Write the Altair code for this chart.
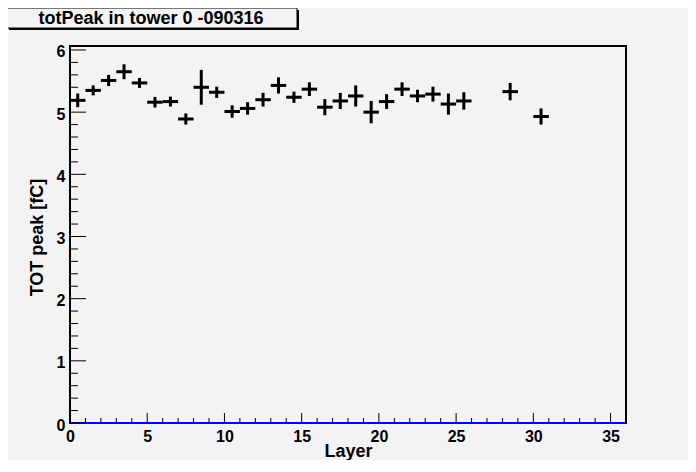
import altair as alt
import pandas as pd

# ---- data ----
layers = [0.5, 1.5, 2.5, 3.5, 4.5, 5.5, 6.5, 7.5, 8.5, 9.5,
          10.5, 11.5, 12.5, 13.5, 14.5, 15.5, 16.5, 17.5, 18.5, 19.5,
          20.5, 21.5, 22.5, 23.5, 24.5, 25.5, 28.5, 30.5]
tot_peak = [5.19, 5.35, 5.51, 5.65, 5.47, 5.16, 5.17, 4.89, 5.40, 5.32,
            5.01, 5.06, 5.20, 5.43, 5.24, 5.37, 5.08, 5.18, 5.26, 5.00,
            5.17, 5.37, 5.26, 5.29, 5.13, 5.18, 5.33, 4.93]
tot_err = [0.11, 0.08, 0.09, 0.12, 0.08, 0.085, 0.08, 0.09, 0.28, 0.09,
           0.10, 0.10, 0.11, 0.13, 0.09, 0.11, 0.13, 0.13, 0.17, 0.18,
           0.12, 0.11, 0.10, 0.12, 0.17, 0.14, 0.14, 0.13]
bin_half_width = 0.5

hist_range = [0, 36]          # histogram x range (empty bins drawn at 0)
x_major = [0, 5, 10, 15, 20, 25, 30, 35]
x_minor = [1, 2, 3, 4, 6, 7, 8, 9, 11, 12, 13, 14, 16, 17, 18, 19, 21, 22,
           23, 24, 26, 27, 28, 29, 31, 32, 33, 34, 36]
y_major = [0, 1, 2, 3, 4, 5, 6]
y_minor = [0.2, 0.4, 0.6, 0.8, 1.2, 1.4, 1.6, 1.8, 2.2, 2.4, 2.6, 2.8,
           3.2, 3.4, 3.6, 3.8, 4.2, 4.4, 4.6, 4.8, 5.2, 5.4, 5.6, 5.8]
y_max = 6.064

title_text = "totPeak in tower 0 -090316"
x_title = "Layer"
y_title = "TOT peak [fC]"

# ---- layout / style ----
W, H = 556, 377
BG = "#f3f3f3"
FONT = "Liberation Sans"

df = pd.DataFrame({"layer": layers, "peak": tot_peak, "err": tot_err})
df["xlo"] = df["layer"] - bin_half_width
df["xhi"] = df["layer"] + bin_half_width
df["ylo"] = df["peak"] - df["err"]
df["yhi"] = df["peak"] + df["err"]

xs = alt.Scale(domain=hist_range, nice=False, zero=False)
ys = alt.Scale(domain=[0, y_max], nice=False, zero=False)

x_axis = alt.Axis(values=x_major, ticks=False, tickSize=0, domain=False, grid=False,
                  labelFont=FONT, labelFontSize=16, labelFontWeight="bold",
                  labelColor="black", labelPadding=5, labelFlush=False,
                  title=x_title, titleFont=FONT, titleFontSize=18,
                  titleFontWeight="bold", titleColor="black",
                  titleX=W / 2, titleY=33, titleAlign="center",
                  titleBaseline="alphabetic")
y_axis = alt.Axis(values=y_major, ticks=False, tickSize=0, domain=False, grid=False,
                  labelFont=FONT, labelFontSize=16, labelFontWeight="bold",
                  labelColor="black", labelPadding=5, labelOffset=2,
                  labelFlush=False,
                  title=y_title, titleFont=FONT, titleFontSize=18,
                  titleFontWeight="bold", titleColor="black",
                  titleAngle=270, titleX=-28, titleY=191,
                  titleAlign="center", titleBaseline="alphabetic")


def X(field):
    return alt.X(field, type="quantitative", scale=xs, axis=x_axis)


def Y(field):
    return alt.Y(field, type="quantitative", scale=ys, axis=y_axis)


base = alt.Chart(df)

hbars = base.mark_rule(color="black", strokeWidth=3, strokeCap="butt").encode(
    x=X("xlo"), x2="xhi", y=Y("peak"))
vbars = base.mark_rule(color="black", strokeWidth=3, strokeCap="butt").encode(
    x=X("layer"), y=Y("ylo"), y2="yhi")

zero_df = pd.DataFrame({"xlo": [hist_range[0]], "xhi": [hist_range[1]], "peak": [0]})
zero_line = alt.Chart(zero_df).mark_rule(color="#0000ff", strokeWidth=2).encode(
    x=X("xlo"), x2="xhi", y=Y("peak"))

ymaj = alt.Chart(pd.DataFrame({"peak": y_major})).mark_rule(color="black", strokeWidth=1).encode(
    y=Y("peak"), x=alt.value(0), x2=alt.value(16))
ymin = alt.Chart(pd.DataFrame({"peak": y_minor})).mark_rule(color="black", strokeWidth=1).encode(
    y=Y("peak"), x=alt.value(0), x2=alt.value(8))
xmaj = alt.Chart(pd.DataFrame({"layer": x_major})).mark_rule(color="black", strokeWidth=1).encode(
    x=X("layer"), y=alt.value(H), y2=alt.value(H - 10))
xmin = alt.Chart(pd.DataFrame({"layer": x_minor})).mark_rule(color="black", strokeWidth=1).encode(
    x=X("layer"), y=alt.value(H), y2=alt.value(H - 5))

# title pave (ROOT style box with shadow)
one = pd.DataFrame({"t": [title_text]})
shadow = alt.Chart(one).mark_rect(color="black").encode(
    x=alt.value(-61), x2=alt.value(229), y=alt.value(-36), y2=alt.value(-16))
box = alt.Chart(one).mark_rect(fill=BG, stroke="black", strokeWidth=1).encode(
    x=alt.value(-63), x2=alt.value(227), y=alt.value(-38), y2=alt.value(-18))
title = alt.Chart(one).mark_text(font=FONT, fontSize=18, fontWeight="bold",
                                 color="black", align="center",
                                 baseline="alphabetic").encode(
    text="t:N", x=alt.value(81), y=alt.value(-22))

chart = alt.layer(
    zero_line, ymin, ymaj, xmin, xmaj, hbars, vbars, shadow, box, title
).properties(
    width=W, height=H, background=BG,
    padding={"left": 62, "top": 38, "right": 62, "bottom": 37},
    autosize=alt.AutoSizeParams(type="none"),
).configure_view(stroke="black", strokeWidth=2)

chart.save("out.html", embed_options={"renderer": "svg", "actions": False})
